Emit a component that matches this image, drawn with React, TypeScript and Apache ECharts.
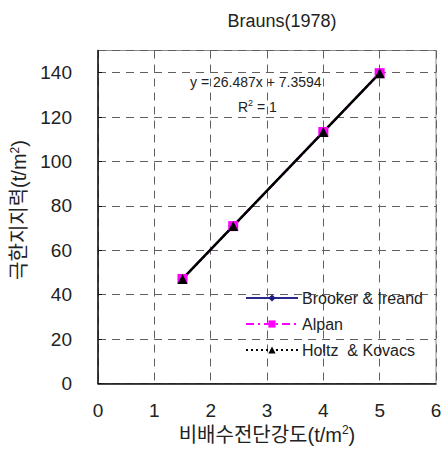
import React, { useEffect, useRef } from "react";
import * as echarts from "echarts";

const xValues = [1.5, 2.4, 4, 5];
const brooker = [47.1, 70.9, 113.3, 139.8];
const alpan = [47.1, 70.9, 113.3, 139.8];
const holtz = [47.1, 70.9, 113.3, 139.8];
const trendX = [1.5, 5];
const trendY = [47.1, 139.8];
const yTicks = [0, 20, 40, 60, 80, 100, 120, 140];
const xTicks = [0, 1, 2, 3, 4, 5, 6];

const FONT = "'Liberation Sans', 'Noto Sans CJK KR', sans-serif";

export default function App() {
  const ref = useRef<HTMLDivElement>(null);
  useEffect(() => {
    document.body.style.margin = "0";
    if (!ref.current) return;
    const chart = echarts.init(ref.current, undefined, { renderer: "svg" });
    const pairs = (ys: number[]) => xValues.map((x, i) => [x, ys[i]]);
    const gridLine = { show: true, lineStyle: { color: "#606060", type: [8, 6] as any, width: 1 } };
    chart.setOption({
      animation: false,
      textStyle: { fontFamily: FONT },
      grid: { left: 98, top: 50.5, width: 338, height: 333, show: true, borderColor: "#8a8a8a", borderWidth: 1 },
      graphic: [
        { type: "text", x: 282, y: 12, style: { text: "Brauns(1978)", fontSize: 18, fill: "#222", textAlign: "center", fontFamily: FONT } },
        { type: "text", x: 190, y: 75, style: { text: "y = 26.487x + 7.3594", fontSize: 14, fill: "#222", fontFamily: FONT } },
        { type: "text", x: 238, y: 98, style: { text: "R{s|2} = 1", rich: { s: { fontSize: 9, padding: [0, 0, 8, 0] } }, fontSize: 14, fill: "#222", fontFamily: FONT } as any },
      ],
      legend: {
        orient: "vertical",
        left: 240,
        top: 285,
        itemWidth: 52,
        itemHeight: 9,
        itemGap: 10,
        data: ["Brooker & Ireand", "Alpan", "Holtz  & Kovacs"],
        textStyle: { fontSize: 16, color: "#222", fontFamily: FONT, padding: [0, 0, 0, -1] },
      },
      xAxis: {
        type: "value",
        min: 0,
        max: 6,
        interval: 1,
        name: "비배수전단강도(t/m{s|2})",
        nameLocation: "middle",
        nameGap: 30,
        nameTextStyle: { fontSize: 20, color: "#222", fontFamily: FONT, rich: { s: { fontSize: 12, padding: [0, 0, 9, 0] } } },
        axisLine: { show: true, onZero: false, lineStyle: { color: "#111", width: 1.5 } },
        axisTick: { show: false },
        splitLine: gridLine,
        axisLabel: { fontSize: 19, color: "#222", margin: 17, formatter: (v: number) => (xTicks.includes(v) ? String(v) : "") },
      },
      yAxis: {
        type: "value",
        min: 0,
        max: 150,
        interval: 20,
        name: "극한지지력(t/m{s|2})",
        nameLocation: "middle",
        nameGap: 56,
        nameRotate: 90,
        nameTextStyle: { fontSize: 20, color: "#222", fontFamily: FONT, padding: [0, 0, 0, 14], rich: { s: { fontSize: 12, padding: [0, 0, 9, 0] } } },
        axisLine: { show: true, lineStyle: { color: "#111", width: 1.5 } },
        axisTick: { show: true, inside: true, length: 4, lineStyle: { color: "#111" } },
        splitLine: gridLine,
        axisLabel: { fontSize: 19, color: "#222", margin: 26, showMaxLabel: false, formatter: (v: number) => (yTicks.includes(v) ? String(v) : "") },
      },
      series: [
        {
          name: "Brooker & Ireand",
          type: "line",
          data: pairs(brooker),
          symbol: "diamond",
          symbolSize: 10,
          lineStyle: { color: "#2b2b8c", width: 1.5 },
          itemStyle: { color: "#1a1a80" },
        },
        {
          name: "Alpan",
          type: "line",
          data: pairs(alpan),
          symbol: "rect",
          symbolSize: 10,
          lineStyle: { color: "#ff00ff", width: 2, type: [8, 4, 2, 4] as any },
          itemStyle: { color: "#ff00ff" },
        },
        {
          name: "trend",
          type: "line",
          data: trendX.map((x, i) => [x, trendY[i]]),
          symbol: "none",
          lineStyle: { color: "#000", width: 2.5 },
          silent: true,
        },
        {
          name: "Holtz  & Kovacs",
          type: "line",
          data: pairs(holtz),
          symbol: "triangle",
          symbolSize: 10,
          lineStyle: { color: "#000", width: 2, type: [2, 3] as any },
          itemStyle: { color: "#000" },
        },
      ],
    });
    return () => chart.dispose();
  }, []);
  return <div ref={ref} style={{ width: 448, height: 452 }} />;
}
